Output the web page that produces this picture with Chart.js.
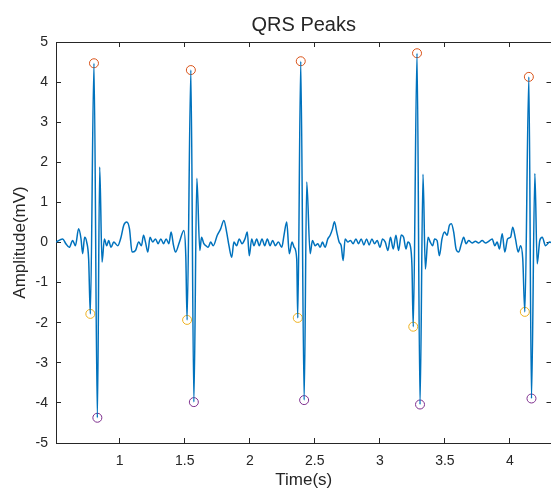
<!DOCTYPE html>
<html lang="en">
<head>
<meta charset="UTF-8">
<title>QRS Peaks</title>
<script src="https://cdn.jsdelivr.net/npm/chart.js"></script>
<style>
  html, body { margin: 0; padding: 0; background: #ffffff; overflow: hidden; }
  /* the original figure is cropped on its right side, so the canvas runs a few px past the window */
  #wrap { width: 557px; height: 495px; }
</style>
</head>
<body>
<div id="wrap"><canvas id="qrsChart"></canvas></div>
<script>
// ECG trace (time in s, amplitude in mV)
const ecgTime = [
  0.509, 0.561, 0.586, 0.612, 0.638, 0.659, 0.684, 0.702, 0.715, 0.730, 0.746, 0.761,
  0.774, 0.802, 0.828, 0.846, 0.864, 0.882, 0.900, 0.915, 0.933, 0.954, 0.985,
  1.010, 1.031, 1.054, 1.075, 1.095, 1.121, 1.146, 1.167, 1.183, 1.198, 1.216, 1.233,
  1.254, 1.275, 1.295, 1.316, 1.337, 1.357, 1.378, 1.395, 1.414, 1.429, 1.458, 1.493, 1.508,
  1.518, 1.547, 1.570, 1.593, 1.616, 1.629, 1.647, 1.663, 1.680, 1.699, 1.719, 1.750,
  1.776, 1.801, 1.822, 1.840, 1.861, 1.878, 1.899, 1.919, 1.940, 1.963, 1.981, 1.996,
  2.015, 2.032, 2.053, 2.073, 2.094, 2.115, 2.135, 2.156, 2.176, 2.196, 2.220, 2.246,
  2.263, 2.284, 2.304, 2.325, 2.341, 2.361,
  2.369, 2.392, 2.418, 2.438, 2.464, 2.482, 2.502, 2.523, 2.541, 2.559, 2.579, 2.600,
  2.618, 2.636, 2.651, 2.669, 2.687, 2.703, 2.718, 2.733, 2.754, 2.774, 2.795, 2.816,
  2.836, 2.857, 2.877, 2.898, 2.918, 2.939, 2.959, 2.980, 3.001, 3.021, 3.042, 3.062,
  3.082, 3.103, 3.124, 3.144, 3.165, 3.183, 3.201, 3.216, 3.234, 3.247,
  3.257, 3.286, 3.309, 3.332, 3.350, 3.371, 3.388, 3.406, 3.421, 3.440, 3.458, 3.478,
  3.498, 3.517, 3.535, 3.550, 3.568, 3.586, 3.606, 3.627, 3.645, 3.663, 3.683, 3.710,
  3.735, 3.760, 3.787, 3.812, 3.837, 3.864, 3.884, 3.902, 3.920, 3.941, 3.961, 3.982,
  4.005, 4.022, 4.043, 4.064, 4.082, 4.099,
  4.115, 4.146, 4.166, 4.192, 4.210, 4.230, 4.249, 4.274, 4.305, 4.330
];
const ecgAmp = [
  0.01, 0.09, -0.03, -0.12, 0.05, -0.08, 0.34, 0.10, -0.28, 0.13, 0.01, -0.41,
  -1.78, 4.47, -4.37, 1.88, -0.49, 0.09, -0.08, 0.05, -0.12, 0.01, -0.08,
  0.13, 0.43, 0.51, 0.34, -0.24, -0.20, 0.01, -0.08, 0.18, 0.01, -0.24, 0.13,
  0.01, 0.09, -0.03, 0.09, -0.03, 0.09, -0.03, 0.26, -0.08, -0.24, 0.00, 0.30, -0.33,
  -1.93, 4.30, -3.98, 1.60, -0.20, 0.13, -0.03, -0.08, -0.12, 0.01, -0.08, 0.18,
  0.34, 0.55, 0.26, -0.08, -0.37, 0.01, -0.08, 0.09, -0.03, 0.09, 0.26, -0.33,
  0.09, -0.08, 0.09, -0.08, 0.09, -0.08, 0.09, -0.08, 0.05, -0.08, 0.01, -0.12,
  0.18, 0.51, -0.28, 0.01, -0.12, -0.41,
  -1.88, 4.52, -3.93, 1.51, -0.28, 0.05, -0.08, -0.03, -0.12, 0.01, -0.12, 0.09,
  0.18, 0.34, 0.52, 0.26, 0.01, -0.08, -0.45, 0.09, 0.01, 0.05, -0.03, 0.09,
  -0.03, 0.09, -0.06, 0.09, -0.06, 0.09, -0.03, 0.05, -0.12, 0.09, 0.01, -0.20,
  0.13, -0.16, 0.18, -0.20, 0.19, 0.13, -0.16, 0.01, -0.08, -0.58,
  -2.10, 4.72, -4.04, 1.70, -0.66, 0.13, 0.01, -0.08, 0.09, 0.05, -0.33, 0.09,
  0.26, 0.18, 0.43, 0.47, 0.26, -0.16, -0.24, -0.03, 0.13, -0.03, 0.05, -0.01,
  0.03, -0.01, 0.05, -0.01, 0.03, 0.09, -0.08, 0.01, -0.16, 0.22, -0.24, 0.09,
  0.13, 0.38, 0.09, -0.24, -0.08, -0.41,
  -1.73, 4.13, -3.89, 1.72, -0.53, 0.05, 0.13, -0.08, 0.01, -0.02
];

// detected peaks
const qTime = [0.774, 1.518, 2.369, 3.257, 4.115];
const qAmp  = [-1.78, -1.93, -1.88, -2.10, -1.73];
const rTime = [0.802, 1.547, 2.392, 3.286, 4.146];
const rAmp  = [4.47, 4.30, 4.52, 4.72, 4.13];
const sTime = [0.828, 1.570, 2.418, 3.309, 4.166];
const sAmp  = [-4.37, -3.98, -3.93, -4.04, -3.89];

const xTicks = [1, 1.5, 2, 2.5, 3, 3.5, 4];
const yTicks = [-5, -4, -3, -2, -1, 0, 1, 2, 3, 4, 5];

const axisColor = '#262626';
const fontFamily = '"Liberation Sans", Arial, Helvetica, sans-serif';

function toPoints(xs, ys) {
    return xs.map((x, i) => ({ x: x, y: ys[i] }));
}

function fixTicks(values) {
    return function (scale) {
        scale.ticks = values.map(v => ({ value: v }));
    };
}

function markerSet(label, xs, ys, color) {
    return {
        label: label,
        data: toPoints(xs, ys),
        showLine: false,
        pointStyle: 'circle',
        pointRadius: 4.5,
        pointBorderWidth: 1,
        pointBorderColor: color,
        pointBackgroundColor: 'rgba(0,0,0,0)',
        borderColor: color
    };
}

function fitX(h) {
    return function (s) {
        s.height = h;
        s.paddingLeft = 0;
        s.paddingRight = 0;
    };
}

const gridOpts = { drawOnChartArea: false, drawTicks: true, tickLength: -5, color: axisColor, lineWidth: 1 };

new Chart(document.getElementById('qrsChart').getContext('2d'), {
    type: 'line',
    data: {
        datasets: [
            {
                label: 'ECG',
                data: toPoints(ecgTime, ecgAmp),
                borderColor: '#0072BD',
                borderWidth: 1.5,
                pointRadius: 0,
                cubicInterpolationMode: 'monotone',
                fill: false
            },
            markerSet('R', rTime, rAmp, '#D95319'),
            markerSet('Q', qTime, qAmp, '#EDB120'),
            markerSet('S', sTime, sAmp, '#7E2F8E')
        ]
    },
    options: {
        responsive: true,
        maintainAspectRatio: false,
        animation: false,
        devicePixelRatio: 1,
        layout: { padding: 0 },
        plugins: {
            legend: { display: false },
            tooltip: { enabled: false },
            title: {
                display: true,
                text: 'QRS Peaks',
                fullSize: false,
                color: axisColor,
                font: { family: fontFamily, size: 20, weight: 'normal' },
                padding: { top: 13, bottom: 5 }
            }
        },
        scales: {
            x: {
                type: 'linear',
                position: 'bottom',
                min: 0.51,
                max: 4.32,
                afterBuildTicks: fixTicks(xTicks),
                afterFit: fitX(52),
                grid: gridOpts,
                border: { display: true, color: axisColor, width: 1 },
                ticks: {
                    color: axisColor,
                    font: { family: fontFamily, size: 14 },
                    padding: 15,
                    maxRotation: 0,
                    autoSkip: false,
                    callback: v => String(v)
                },
                title: {
                    display: true,
                    text: 'Time(s)',
                    color: axisColor,
                    font: { family: fontFamily, size: 17 },
                    padding: { top: 0, bottom: 4 }
                }
            },
            x2: {
                type: 'linear',
                position: 'top',
                min: 0.51,
                max: 4.32,
                afterBuildTicks: fixTicks(xTicks),
                afterFit: fitX(0),
                grid: gridOpts,
                border: { display: true, color: axisColor, width: 1 },
                ticks: { display: false }
            },
            y: {
                type: 'linear',
                position: 'left',
                min: -5,
                max: 5,
                afterBuildTicks: fixTicks(yTicks),
                afterFit: s => { s.width = 56; },
                grid: gridOpts,
                border: { display: true, color: axisColor, width: 1 },
                ticks: {
                    color: axisColor,
                    font: { family: fontFamily, size: 14 },
                    padding: 13,
                    callback: v => String(v)
                },
                title: {
                    display: true,
                    text: 'Amplitude(mV)',
                    color: axisColor,
                    font: { family: fontFamily, size: 17 },
                    padding: { top: 10, bottom: 0 }
                }
            },
            y2: {
                type: 'linear',
                position: 'right',
                min: -5,
                max: 5,
                afterBuildTicks: fixTicks(yTicks),
                afterFit: s => { s.width = 0; },
                grid: gridOpts,
                border: { display: false },
                ticks: { display: false }
            }
        }
    }
});
</script>
</body>
</html>
